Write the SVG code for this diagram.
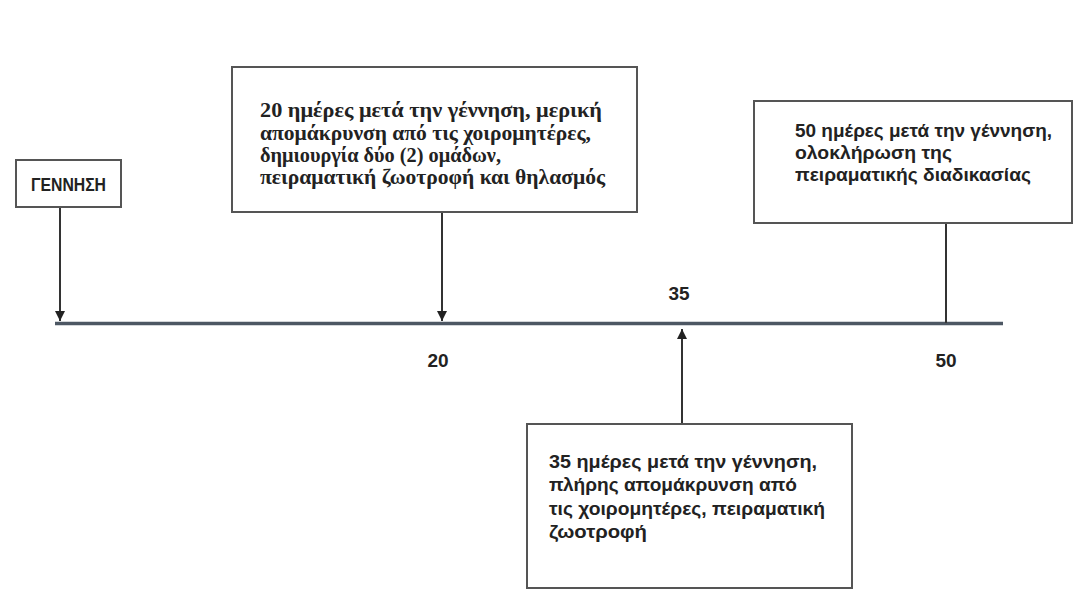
<svg xmlns="http://www.w3.org/2000/svg" width="1087" height="613" viewBox="0 0 1087 613">
<style>
.box{fill:#fff;stroke:#555;stroke-width:2}
.serif{font-family:"Liberation Serif","DejaVu Serif","Times New Roman",serif;font-weight:bold;font-size:21px;fill:#222}
.sans{font-family:"Liberation Sans",Arial,sans-serif;font-weight:bold;font-size:19px;fill:#222}
.num{font-family:"Liberation Sans",Arial,sans-serif;font-weight:bold;font-size:19px;fill:#222;text-anchor:middle}
.con{stroke:#333;stroke-width:2;fill:none}
</style>
<defs>
<marker id="ah" viewBox="0 0 10 10" refX="10" refY="5" markerWidth="10" markerHeight="10" markerUnits="userSpaceOnUse" orient="auto">
<path d="M0,0 L10,5 L0,10 z" fill="#222"/>
</marker>
</defs>
<rect width="1087" height="613" fill="#fff"/>
<g id="timeline">
<line x1="55" y1="323.5" x2="1003" y2="323.5" stroke="#4d5763" stroke-width="3.5"/>
<text class="num" x="438" y="367">20</text>
<text class="num" x="679" y="300">35</text>
<text class="num" x="946" y="367">50</text>
</g>
<g id="connectors">
<line class="con" x1="60" y1="207" x2="60" y2="321" marker-end="url(#ah)"/>
<line class="con" x1="442" y1="212" x2="442" y2="321" marker-end="url(#ah)"/>
<line class="con" x1="682" y1="424" x2="682" y2="329" marker-end="url(#ah)"/>
<line class="con" x1="946" y1="223" x2="946" y2="323"/>
</g>
<g id="node-birth">
<rect class="box" x="16" y="160" width="105" height="47"/>
<text class="sans" x="31" y="191" font-size="15" textLength="75" lengthAdjust="spacingAndGlyphs">ΓΕΝΝΗΣΗ</text>
</g>
<g id="node-20">
<rect class="box" x="232" y="67" width="405" height="145"/>
<text class="serif" x="260" y="117" textLength="342" lengthAdjust="spacingAndGlyphs">20 ημέρες μετά την γέννηση, μερική</text>
<text class="serif" x="260" y="140" textLength="331" lengthAdjust="spacingAndGlyphs">απομάκρυνση από τις χοιρομητέρες,</text>
<text class="serif" x="260" y="162" textLength="241" lengthAdjust="spacingAndGlyphs">δημιουργία δύο (2) ομάδων,</text>
<text class="serif" x="260" y="184" textLength="345" lengthAdjust="spacingAndGlyphs">πειραματική ζωοτροφή και θηλασμός</text>
</g>
<g id="node-50">
<rect class="box" x="754" y="101" width="318" height="122"/>
<text class="sans" x="795" y="137" font-size="18.5" textLength="257" lengthAdjust="spacingAndGlyphs">50 ημέρες μετά την γέννηση,</text>
<text class="sans" x="795" y="159" font-size="18.5" textLength="157" lengthAdjust="spacingAndGlyphs">ολοκλήρωση της</text>
<text class="sans" x="795" y="181" font-size="18.5" textLength="236" lengthAdjust="spacingAndGlyphs">πειραματικής διαδικασίας</text>
</g>
<g id="node-35">
<rect class="box" x="527" y="424" width="325" height="164"/>
<text class="sans" x="549" y="468" textLength="268" lengthAdjust="spacingAndGlyphs">35 ημέρες μετά την γέννηση,</text>
<text class="sans" x="549" y="491" textLength="248" lengthAdjust="spacingAndGlyphs">πλήρης απομάκρυνση από</text>
<text class="sans" x="549" y="515" textLength="276" lengthAdjust="spacingAndGlyphs">τις χοιρομητέρες, πειραματική</text>
<text class="sans" x="549" y="538" textLength="98" lengthAdjust="spacingAndGlyphs">ζωοτροφή</text>
</g>
</svg>
